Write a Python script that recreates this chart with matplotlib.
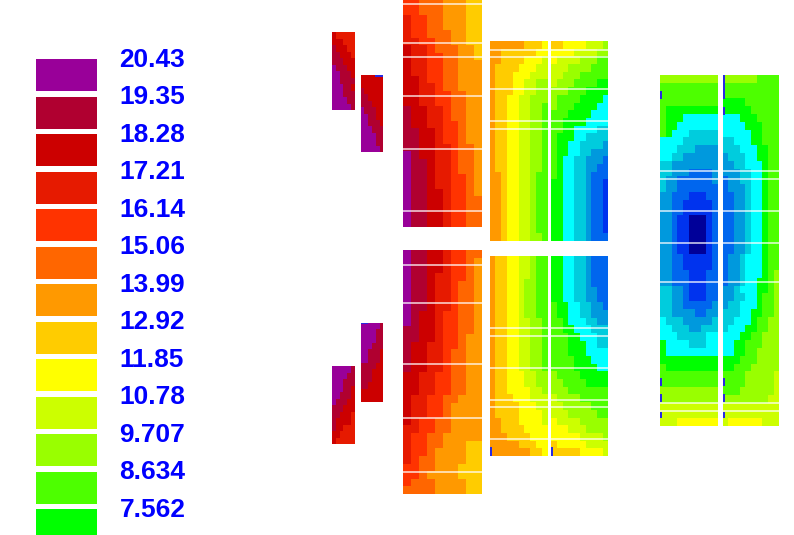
import numpy as np
import matplotlib
matplotlib.use("Agg")
import matplotlib.pyplot as plt
from matplotlib.colors import ListedColormap, BoundaryNorm

legend_labels = ["20.43", "19.35", "18.28", "17.21", "16.14", "15.06", "13.99",
                 "12.92", "11.85", "10.78", "9.707", "8.634", "7.562"]
band_colors = ["#990099", "#B00030", "#CC0000", "#E61A00", "#FF3300", "#FF6600", "#FF9900",
               "#FFCC00", "#FFFF00", "#CCFF00", "#99FF00", "#4DFF00", "#00FF00",
               "#00FFFF", "#00CCDD", "#0099DD", "#0066EE", "#0033EE", "#000099"]

# band letter per cell: a = first band (20.43) ... s = deepest blue
small_a_top = ["cddddd", "cccddd", "bcccdd", "bbcccd", "bbbccc", "abbbcc",
               "aabbbc", "aabbbb", "aaabbc", "aaabbb", "aaaabb", "aaaaab"]
small_b_top = ["cccccc", "cccccc", "bccccc", "bbcccc", "bbbccc", "abbbcc",
               "aabbcc", "aabbbc", "aaabbb", "aaaabb", "aaaabb", "aaaaab"]
small_a_bot = ["aaaaab", "aaaabb", "aaabbb", "aaabbc", "aabbbc", "abbbcc",
               "bbbccc", "bbcccd", "bccccd", "bccddd", "ccdddd", "cddddd"]
small_b_bot = ["aaaaab", "aaaabb", "aaaabb", "aaabbb", "aabbbc", "aabbbc",
               "bbbbcc", "bbbccc", "bbbccc", "bbcccc", "cccccc", "cccccc"]

big_top = ["eefffggghh", "eefffggghh", "deeffggghh", "deeffggghh", "deefffgghh",
           "ddeeffgghh", "cddefffggh", "cddeeffggh", "cddeeffggg", "cddeeffggg",
           "ccdeeffggg", "ccddeffggg", "ccddeeffgg", "ccddeeffgg", "bccddeffgg",
           "bccddeffgg", "bccddeefgg", "bbccdeefgg", "bbccdeefgg", "bbccddeffg",
           "abccddeffg", "abbcddeffg", "abbcddeffg", "abbcddeefg", "abbcddeefg",
           "abbccdeefg", "abbccdeeff", "abbccdeeff", "abbccdeeff", "abbccdeeff"]
big_bot = ["abbccdeeff", "abbccdeefg", "abbccdeefg", "abbcddeefg", "abbcddeffg",
           "abbcddeffg", "abbcddeffg", "abbcddeffg", "abccdeeffg", "abccdeeffg",
           "bbccdeeffg", "bbccdeefgg", "bccddeefgg", "bccddeffgg", "bccddeffgg",
           "bccddeffgg", "ccddeeffgg", "ccddeeffgg", "ccddeeffgg", "cddeeffggg",
           "cddeefgggg", "cddeefgggg", "cdeeffgggg", "ddeeffgggg", "deeffggggg",
           "deeffggghh", "deefgggghh", "deffgggghh", "eeffggghhh", "eefgggghhh",
           "efffgggghh", "ffffgggghh"]

mid_tl = ["gggggghhhi", "gghhhhhhii", "gghhhhiiij", "ghhhhiiijj", "ghhhiiijjj",
          "ghhhiijjkk", "ghhhiijjkk", "ghhiijjkkk", "ghhiijjkkl", "ghhiijjkkl",
          "ghhiijjkkl", "ghhiijjkkl", "ghhiijjkkl", "ghhiijjkkl", "ghhiijjkkl",
          "ghhiijjkkl", "ghhiijjkkl", "gghiijjkll", "gghiijjkll", "gghiijjkll",
          "gghiijjkll", "gghiijjkll", "gghiijjkll", "gghiijjkll", "gghiijjkll",
          "gghiijjkkl"]
mid_tr = ["hhiiiijjjk", "iiiijjjjkk", "ijjjjkkkll", "jjjkkkklll", "jjkkklllll",
          "jkkkllllmm", "kkklllmmmm", "kllllmmmmn", "klllmmmmnn", "lllmmmmnnn",
          "llmmmmnnnn", "llmmnnnnoo", "lmmmnnoooo", "lmmnnoooop", "lmmnnooppp",
          "lmnnoopppq", "lmnnooppqq", "lmnnoopqqq", "mmnnoopqqr", "mmnnoopqqr",
          "mmnnoopqqr", "mmnnoopqqr", "mmnnoopqqr", "mmnnoopqqr", "mmnnoopqqr",
          "mmnnoopqqq"]
mid_bl = ["ghhiijjkll", "ghhiijjkll", "ghhiijjkll", "ghhiijkkll", "ghhiijkkll",
          "ghhiijkkll", "ghhiijkkll", "ghhiijkkll", "ghhiijjkkl", "ghhiijjkkl",
          "ghhiijjkkl", "ghhiijjkkl", "ghhiijjkkl", "ghhiijjkkl", "ghhiijjkkl",
          "ghhiiijjkk", "ghhiiijjkk", "ghhiiiijjk", "ghhhiiijjj", "ghhhhiiijj",
          "ghhhhiiiij", "gghhhiiiij", "gghhhhiiii", "ggghhhhiii", "ggggghhhii",
          "ggggggghhi"]
mid_br = ["mmnnoopqqq", "mmnnoopqqq", "mmnnoopqqq", "mmnnoopqqq", "mmnnooppqq",
          "mmnnooppqq", "lmmnnooppq", "lmmnnooppp", "llmnnnoopp", "llmmnnnooo",
          "lllmmnnnoo", "lllmmmnnoo", "lllmmmnnnn", "llllmmmnnn", "llllmmmmnn",
          "kllllmmmmm", "kkllllmmmm", "kkklllllll", "jkkkklllll", "jjkkkkklll",
          "jjjkkkkkll", "ijjjjkkkkk", "iiijjjkkkk", "iiiiijjjjk", "hiiiiijjjj",
          "hhhhhiiiij"]

right_l = ["kkkkkkkkkk", "llllllllll", "llllllllll", "llllllllll", "lmmmmmmmmm",
           "lmmmnnnnnn", "lmmnnnnnnn", "lmnnnooooo", "nnnnoooooo", "nnnooopppp",
           "nnoopppppp", "oopppppppp", "oopppqqqqp", "oppqqqqqqp", "oppqqqqqqq",
           "ppqqqrrrqq", "ppqqrrrrrq", "ppqqrrrrrq", "ppqrrsssrq", "ppqrrsssrq",
           "ppqrrsssrq", "ppqrrsssrq", "ppqrrsssrq", "ppqqrrrrrq", "ppqqrrrrrq",
           "ppqqqrrrqq", "ppqqqrrrqq", "ooppqrrrqq", "ooppqrrrqq", "ooppqqqqqp",
           "ooppppqqpp", "nooopppppo", "nnoooppooo", "nnnooooonn", "mnnnnooonn",
           "mnnnnnnnnn", "mmmmmmmmmm", "lmmmmmmmmm", "llllllllll", "llllllllll",
           "kkkkkkkkkk", "kkkkkkkkkk", "jjjjjjjjjj", "jjjjjjjjjj", "jjjiiiiiii"]
right_r = ["kkkkkkllll", "llllllllll", "llllllllll", "mmmmllllll", "mmmmmlllll",
           "nnnmmmllll", "nnnnmmmlll", "nnnnnmmlll", "oonnnmmlll", "ooonnnmmll",
           "pooonnmmll", "ppoonnnmll", "pppoonnmll", "qppoonnmll", "qppponnmll",
           "qqpponnmll", "qqpponnmll", "qqpponnmll", "qqpponnmll", "qqpponnmll",
           "qqpponnmll", "qqpponnmll", "qqpponnmll", "qpponnnmll", "qpponnnmll",
           "qpponnnmlk", "qpponnmmlk", "pponnnmmlk", "ppoonnmllk", "poonnnmllk",
           "ooonnmmllk", "oonnnmllkk", "onnnmmllkk", "nnnmmllkkk", "nnmmlllkkk",
           "nnmmllkkkk", "mmmlllkkkk", "mmlllkkkkk", "llllkkkkkj", "llllkkkkkj",
           "lllkkkkkkj", "kkkkkkkkjj", "jjjjjjjjjj", "jjjjjjjjjj", "jiiiiiijjj"]

# layout in reference pixels
W, H = 794, 535
panels = [(small_a_top, 332, 354.7, 32, 110), (small_b_top, 360.7, 383.3, 75, 152),
          (small_a_bot, 332, 354.7, 366, 444.3), (small_b_bot, 360.7, 383.3, 322.7, 402.3),
          (big_top, 403.3, 482, 0, 226.7), (big_bot, 403.3, 482, 250, 494),
          (mid_tl, 489.7, 547.5, 41, 241), (mid_tr, 551.3, 608.3, 41, 241),
          (mid_bl, 489.7, 547.5, 256, 456), (mid_br, 551.3, 608.3, 256, 456),
          (right_l, 660, 718, 75, 426), (right_r, 722.7, 779.3, 75, 426)]
white_rules = [(403.3, 482, [3.5, 42.7, 57.3, 96, 149, 210.7, 264.7, 303, 364.3, 417.7, 471.7]),
               (489.7, 608.3, [49.7, 57.3, 89, 121, 129, 328, 335.7, 367.7, 399.7, 407, 439.3]),
               (660, 779.3, [171.3, 179, 210.7, 242.7, 282.3, 402.7, 410.7])]
blue_ticks = [(375, 383.3, 75, 76.5), (360.7, 368, 322.7, 324.2),
              (490, 492, 447, 456), (551.3, 553.3, 447, 456),
              (660, 662, 91, 99), (723, 724.5, 75, 99), (723, 724.5, 107, 115),
              (660, 662, 378, 386), (660, 662, 394, 402), (660, 662, 412, 418),
              (723, 724.5, 378, 386), (723, 724.5, 394, 402), (723, 724.5, 412, 418)]

plt.rcParams["font.family"] = ["Liberation Sans", "DejaVu Sans"]
fig = plt.figure(figsize=(W / 100, H / 100), dpi=100)
ax = fig.add_axes([0, 0, 1, 1])
ax.set_xlim(0, W)
ax.set_ylim(H, 0)
ax.axis("off")

cmap = ListedColormap(band_colors)
norm = BoundaryNorm(np.arange(len(band_colors) + 1) - 0.5, len(band_colors))

for rows, x0, x1, y0, y1 in panels:
    grid = np.array([[ord(ch) - ord("a") for ch in r] for r in rows])
    xe = np.linspace(x0, x1, grid.shape[1] + 1)
    ye = np.linspace(y0, y1, grid.shape[0] + 1)
    ax.pcolormesh(xe, ye, grid, cmap=cmap, norm=norm, shading="flat", antialiased=False)

for x0, x1, ys in white_rules:
    ax.hlines(ys, x0, x1, colors="white", linewidth=1.1, alpha=0.85, zorder=3)

for x0, x1, y0, y1 in blue_ticks:
    ax.fill_between([x0, x1], y0, y1, color="#2A2AE0", linewidth=0, zorder=4)

n = len(legend_labels)
tops = 59.3 + 37.5 * np.arange(n)
heights = np.full(n, 32.0)
ax.bar(np.full(n, 66.5), heights, width=61, bottom=tops,
       color=band_colors[:n], edgecolor="none", zorder=2)
for i, lab in enumerate(legend_labels):
    ax.text(119.5, 57.4 + 37.5 * i, lab, color="#0000FF", fontsize=18.9,
            fontweight="bold", ha="left", va="center_baseline")

fig.savefig("out.png", dpi=100, facecolor="white")
